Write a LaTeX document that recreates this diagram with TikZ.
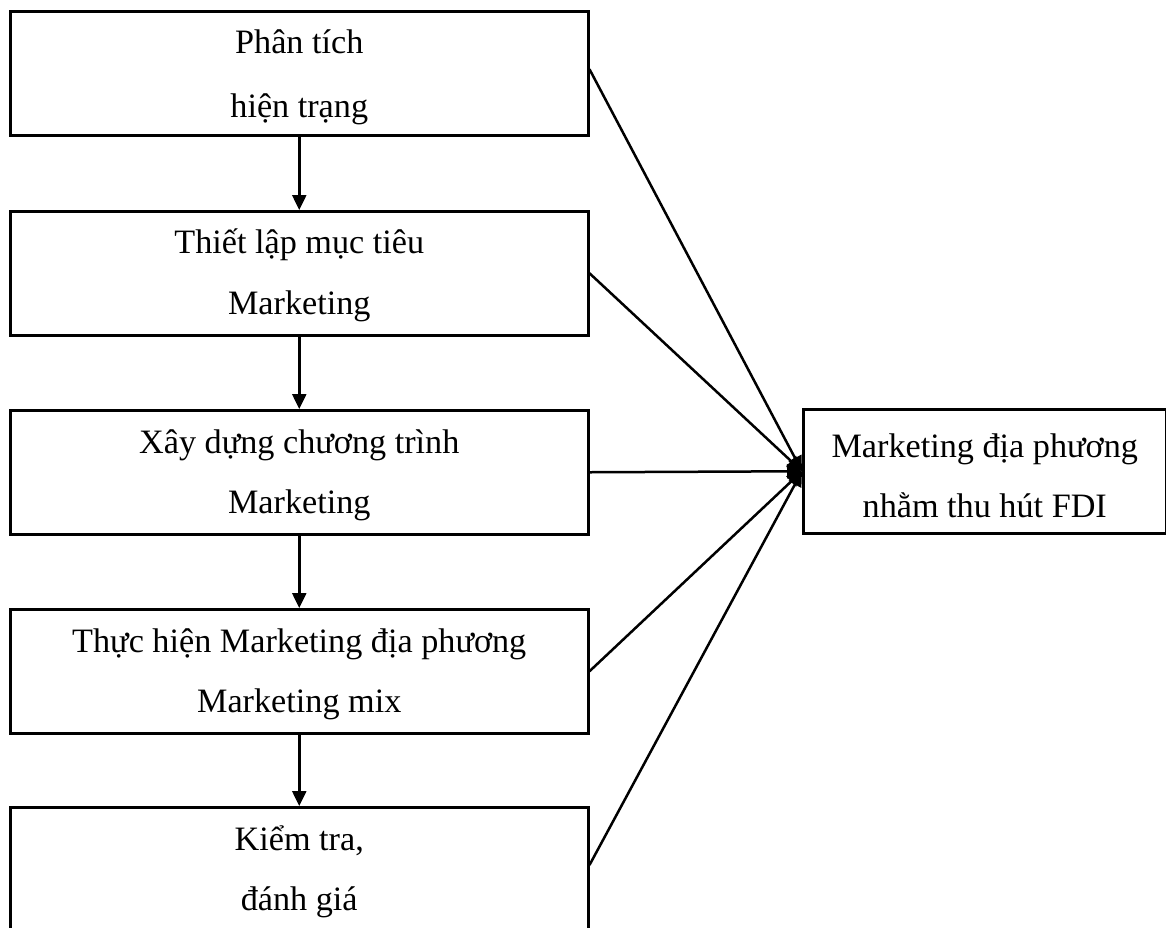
\documentclass[tikz,border=0pt]{standalone}
\usepackage{fontspec}
\setmainfont{Liberation Serif}
\usetikzlibrary{arrows.meta,calc}
\begin{document}
\begin{tikzpicture}[x=1pt,y=-1pt,
  stepbox/.style={draw=black,line width=2.5pt,rectangle,minimum width=578pt,minimum height=124pt,inner sep=0pt,anchor=north west},
  goalbox/.style={draw=black,line width=2.5pt,rectangle,minimum width=363pt,minimum height=124pt,inner sep=0pt,anchor=north west},
  txt/.style={anchor=base,inner sep=0pt,font=\fontsize{34.2}{40}\selectfont},
  flow/.style={line width=2.5pt,-{Triangle[length=15pt,width=14pt]}},
  link/.style={line width=2.5pt,-{Triangle[length=15pt,width=14pt]}}]
\useasboundingbox (0,0) rectangle (1166,927);
\node[stepbox] (b1) at (9,10) {};
\node[stepbox] (b2) at (9,210) {};
\node[stepbox] (b3) at (9,409) {};
\node[stepbox] (b4) at (9,608) {};
\node[stepbox,minimum height=134pt] (b5) at (9,806) {};
\node[goalbox] (g) at (802,408) {};
% texts
\node[txt] (t1a) at ($(b1.north)+(0,43)$) {Phân tích};
\node[txt] (t1b) at ($(b1.north)+(0,107)$) {hiện trạng};
\node[txt] (t2a) at ($(b2.north)+(0,43)$) {Thiết lập mục tiêu};
\node[txt] (t2b) at ($(b2.north)+(0,104)$) {Marketing};
\node[txt] (t3a) at ($(b3.north)+(0,44)$) {Xây dựng chương trình};
\node[txt] (t3b) at ($(b3.north)+(0,104)$) {Marketing};
\node[txt] (t4a) at ($(b4.north)+(0,44)$) {Thực hiện Marketing địa phương};
\node[txt] (t4b) at ($(b4.north)+(0,104)$) {Marketing mix};
\node[txt] (t5a) at ($(b5.north)+(0,44)$) {Kiểm tra,};
\node[txt] (t5b) at ($(b5.north)+(0,104)$) {đánh giá};
\node[txt] (ga) at ($(g.north)+(0,49)$) {Marketing địa phương};
\node[txt] (gb) at ($(g.north)+(0,109)$) {nhằm thu hút FDI};
% vertical arrows
\draw[flow] (b1.south) -- (b2.north);
\draw[flow] (b2.south) -- (b3.north);
\draw[flow] (b3.south) -- (b4.north);
\draw[flow] (b4.south) -- (b5.north);
% converging links
\draw[link] ($(b1.east)+(0,-4)$) -- (g.west);
\draw[link] (b2.east) -- (g.west);
\draw[link] (b3.east) -- (g.west);
\draw[link] (b4.east) -- (g.west);
\draw[link] ($(b5.north east)+(0,59)$) -- (g.west);
\end{tikzpicture}
\end{document}
